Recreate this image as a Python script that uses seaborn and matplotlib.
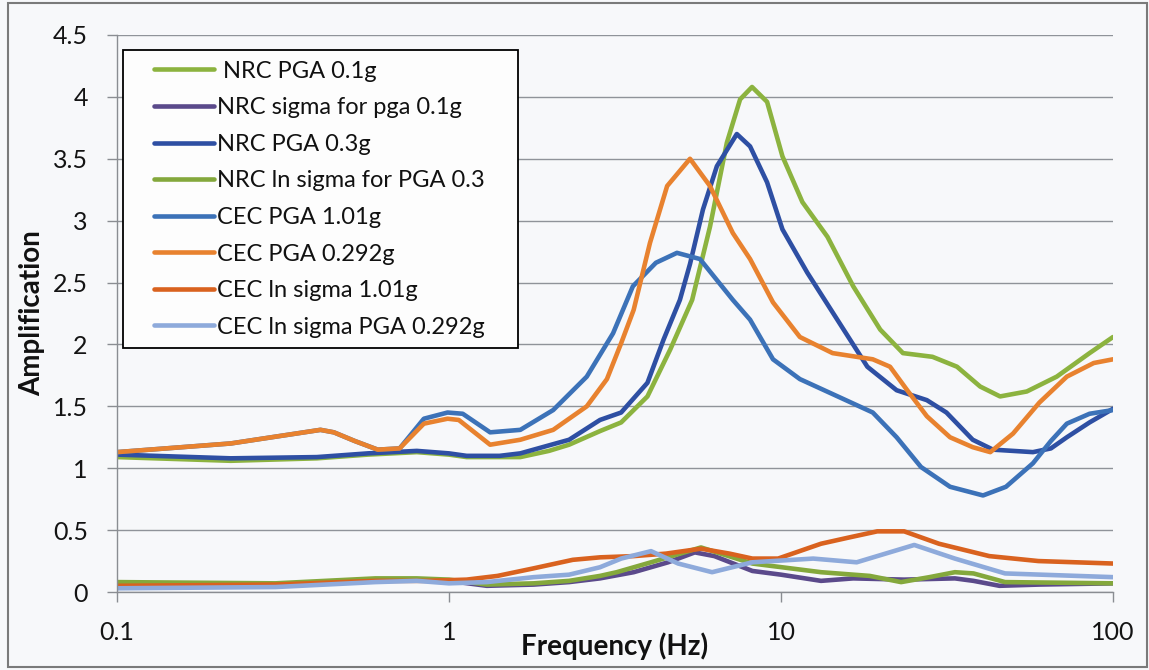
import numpy as np
import pandas as pd
import matplotlib
matplotlib.use("Agg")
import matplotlib.pyplot as plt
import seaborn as sns
from matplotlib.lines import Line2D
from matplotlib.legend_handler import HandlerLine2D
from matplotlib.patches import Rectangle
from matplotlib.ticker import NullLocator

# ---------------- data ----------------
series_names = [
    " NRC PGA 0.1g",
    "NRC sigma for pga 0.1g",
    "NRC PGA 0.3g",
    "NRC ln sigma for PGA 0.3",
    "CEC PGA 1.01g",
    "CEC PGA 0.292g",
    "CEC ln sigma 1.01g",
    "CEC ln sigma PGA 0.292g",
]
series_colors = ["#8cb33f", "#5b4a8b", "#2e4fa3", "#84a83c",
                 "#3c72b8", "#e8822f", "#d9621f", "#8eaadb"]

nrc01_f = [0.1, 0.22, 0.4, 0.57, 0.8, 1.0, 1.13, 1.42, 1.64, 2.0, 2.3, 2.85, 3.3, 3.96, 4.64,
           5.4, 6.11, 6.87, 7.53, 8.18, 9.08, 10.1, 11.6, 13.8, 16.5, 19.9, 23.3, 28.6, 33.9,
           39.8, 45.7, 55, 67.7, 85, 100]
nrc01_v = [1.09, 1.06, 1.08, 1.11, 1.13, 1.11, 1.09, 1.09, 1.09, 1.14, 1.19, 1.30, 1.37, 1.58, 1.96,
           2.36, 2.95, 3.63, 3.98, 4.08, 3.96, 3.52, 3.15, 2.87, 2.47, 2.12, 1.93, 1.90, 1.82,
           1.66, 1.58, 1.62, 1.74, 1.93, 2.06]

nrcsig01_f = [0.1, 0.3, 0.6, 0.8, 1.0, 1.3, 1.8, 2.3, 2.85, 3.6, 4.57, 5.5, 6.3, 8.2, 10.0, 13.2,
              16.5, 23.5, 33.4, 38.0, 45.5, 60, 100]
nrcsig01_v = [0.06, 0.06, 0.09, 0.10, 0.09, 0.05, 0.06, 0.08, 0.11, 0.16, 0.24, 0.32, 0.29, 0.17,
              0.14, 0.09, 0.11, 0.10, 0.11, 0.09, 0.05, 0.06, 0.07]

nrc03_f = [0.1, 0.22, 0.4, 0.57, 0.8, 1.0, 1.13, 1.42, 1.64, 2.3, 2.85, 3.3, 3.96, 4.43, 4.96,
           5.32, 5.82, 6.41, 7.36, 8.07, 9.08, 10.1, 12.0, 14.3, 18.2, 22.3, 27.5, 31.5, 37.8,
           43.5, 57.4, 65, 72.6, 85, 100]
nrc03_v = [1.11, 1.08, 1.09, 1.12, 1.14, 1.12, 1.10, 1.10, 1.12, 1.23, 1.39, 1.45, 1.69, 2.04, 2.36,
           2.65, 3.09, 3.44, 3.70, 3.60, 3.31, 2.93, 2.58, 2.26, 1.82, 1.63, 1.55, 1.45, 1.23,
           1.15, 1.13, 1.16, 1.25, 1.37, 1.48]

nrcsig03_f = [0.1, 0.3, 0.6, 0.8, 1.0, 1.3, 1.8, 2.3, 2.85, 3.2, 4.06, 5.74, 8.2, 13.2, 18.5, 23.0,
              28.0, 33.4, 38.0, 47.3, 100]
nrcsig03_v = [0.08, 0.07, 0.11, 0.11, 0.10, 0.06, 0.07, 0.09, 0.13, 0.16, 0.24, 0.36, 0.23, 0.16,
              0.13, 0.08, 0.12, 0.16, 0.15, 0.08, 0.07]

cec101_f = [0.1, 0.22, 0.41, 0.45, 0.52, 0.61, 0.71, 0.84, 0.99, 1.1, 1.33, 1.64, 2.06, 2.6, 3.12,
            3.58, 4.2, 4.86, 5.7, 7.16, 8.07, 9.46, 11.4, 15.1, 18.9, 22.3, 26.4, 32.3, 40.6,
            47.6, 57.4, 65, 72.6, 85, 100]
cec101_v = [1.13, 1.20, 1.31, 1.29, 1.22, 1.15, 1.16, 1.40, 1.45, 1.44, 1.29, 1.31, 1.47, 1.74, 2.09,
            2.47, 2.66, 2.74, 2.69, 2.36, 2.20, 1.88, 1.72, 1.57, 1.45, 1.25, 1.01, 0.85, 0.78,
            0.85, 1.04, 1.22, 1.36, 1.44, 1.47]

cec0292_f = [0.1, 0.22, 0.41, 0.45, 0.52, 0.61, 0.71, 0.84, 0.99, 1.07, 1.33, 1.64, 2.06, 2.6, 2.99,
             3.3, 3.6, 4.03, 4.54, 5.32, 6.11, 7.16, 8.07, 9.46, 11.4, 14.3, 18.9, 21.3, 24.0,
             27.5, 32.3, 37.8, 42.7, 50, 60, 72.6, 87.5, 100]
cec0292_v = [1.13, 1.20, 1.31, 1.29, 1.22, 1.15, 1.16, 1.36, 1.40, 1.39, 1.19, 1.23, 1.31, 1.50, 1.72,
             2.01, 2.28, 2.82, 3.28, 3.50, 3.28, 2.90, 2.69, 2.34, 2.06, 1.93, 1.88, 1.82, 1.63,
             1.42, 1.25, 1.17, 1.13, 1.28, 1.53, 1.74, 1.85, 1.88]

cecsig101_f = [0.1, 0.3, 0.6, 0.85, 1.13, 1.4, 1.79, 2.36, 2.85, 3.6, 4.5, 5.74, 7.0, 8.2, 9.8,
               13.2, 16.0, 19.5, 23.5, 29.9, 42.4, 59.6, 100]
cecsig101_v = [0.05, 0.06, 0.09, 0.09, 0.10, 0.13, 0.19, 0.26, 0.28, 0.29, 0.31, 0.35, 0.31, 0.27,
               0.27, 0.39, 0.44, 0.49, 0.49, 0.39, 0.29, 0.25, 0.23]

cecsig0292_f = [0.1, 0.3, 0.6, 0.8, 1.0, 1.3, 1.8, 2.3, 2.85, 3.3, 4.06, 4.9, 6.2, 8.2, 12.5, 16.9,
                25.2, 33.4, 47.3, 100]
cecsig0292_v = [0.03, 0.04, 0.08, 0.09, 0.07, 0.08, 0.12, 0.14, 0.20, 0.27, 0.33, 0.23, 0.16, 0.24,
                0.27, 0.24, 0.38, 0.27, 0.15, 0.12]

x_ticks = [0.1, 1, 10, 100]
x_tick_labels = ["0.1", "1", "10", "100"]
y_ticks = [0, 0.5, 1, 1.5, 2, 2.5, 3, 3.5, 4, 4.5]
y_tick_labels = ["0", "0.5", "1", "1.5", "2", "2.5", "3", "3.5", "4", "4.5"]

series_data = [
    (nrc01_f, nrc01_v), (nrcsig01_f, nrcsig01_v), (nrc03_f, nrc03_v), (nrcsig03_f, nrcsig03_v),
    (cec101_f, cec101_v), (cec0292_f, cec0292_v), (cecsig101_f, cecsig101_v),
    (cecsig0292_f, cecsig0292_v),
]

frames = []
for name, (f, v) in zip(series_names, series_data):
    frames.append(pd.DataFrame({"freq": f, "amp": v, "series": name}))
df = pd.concat(frames, ignore_index=True)

# ---------------- styling ----------------
sns.set_theme(style="white")
plt.rcParams["font.family"] = ["Lato", "DejaVu Sans"]

bg = "#f7f8fa"
grid_c = "#8f9399"
axis_c = "#8a8d92"

fig = plt.figure(figsize=(11.49, 6.70), dpi=100, facecolor=bg)
ax = fig.add_axes([117 / 1149, 1 - 592 / 670, (1113 - 117) / 1149, (592 - 35) / 670])
ax.set_facecolor(bg)

palette = dict(zip(series_names, series_colors))
sns.lineplot(data=df, x="freq", y="amp", hue="series", hue_order=series_names,
             palette=palette, linewidth=3.3, estimator=None, sort=False,
             legend=False, ax=ax)
for ln in ax.get_lines():
    ln.set_solid_joinstyle("round")
    ln.set_solid_capstyle("round")

ax.set_xscale("log")
ax.set_xlim(0.1, 100)
ax.set_ylim(0, 4.5)
ax.set_xticks(x_ticks)
ax.set_xticklabels(x_tick_labels)
ax.xaxis.set_minor_locator(NullLocator())
ax.set_yticks(y_ticks)
ax.set_yticklabels(y_tick_labels)

ax.tick_params(axis="both", which="major", direction="out", length=7, width=1,
               color=axis_c, labelsize=18, labelcolor="#141414", bottom=True, left=True)
ax.tick_params(axis="x", pad=14)
ax.tick_params(axis="y", pad=14)

ax.grid(axis="y", color=grid_c, lw=1)
ax.grid(axis="x", visible=False)
ax.set_axisbelow(True)
for s in ["top", "right"]:
    ax.spines[s].set_visible(False)
for s in ["left", "bottom"]:
    ax.spines[s].set_color(axis_c)
    ax.spines[s].set_linewidth(1)

ax.set_xlabel("Frequency (Hz)", fontsize=20, fontweight="bold", color="#111111")
ax.xaxis.set_label_coords(0.5, -0.072)
ax.set_ylabel("Amplification", fontsize=20, fontweight="bold", color="#111111")
ax.yaxis.set_label_coords(-0.072, 0.5)


class PadHandler(HandlerLine2D):
    def create_artists(self, legend, orig_handle, xdescent, ydescent, width, height,
                       fontsize, trans):
        arts = super().create_artists(legend, orig_handle, xdescent, ydescent, width,
                                      height, fontsize, trans)
        for a in arts:
            n = len(a.get_ydata())
            a.set_xdata(np.linspace(-xdescent + 0.25 * width, -xdescent + width, n))
        return arts


handles = [Line2D([], [], color=c, lw=3.3) for c in series_colors]
leg = ax.legend(handles, series_names, loc="upper left",
                bbox_to_anchor=(0.006, 0.30, 0.397, 0.673), mode="expand",
                borderaxespad=0, fontsize=17, frameon=True, fancybox=False,
                edgecolor="black", facecolor="#fdfdfd", framealpha=1,
                handlelength=3.4, handletextpad=0.14, labelspacing=0.66,
                borderpad=0.45, handler_map={Line2D: PadHandler()})
leg.get_frame().set_linewidth(1.3)
for t in leg.get_texts():
    t.set_color("#111111")

fig.patches.append(Rectangle((8 / 1149, 3 / 670), (1147 - 8) / 1149, (667 - 3) / 670,
                             transform=fig.transFigure, fill=False,
                             edgecolor="#7a7a7a", lw=1.5))

fig.savefig("out.png", dpi=100, facecolor=fig.get_facecolor())
